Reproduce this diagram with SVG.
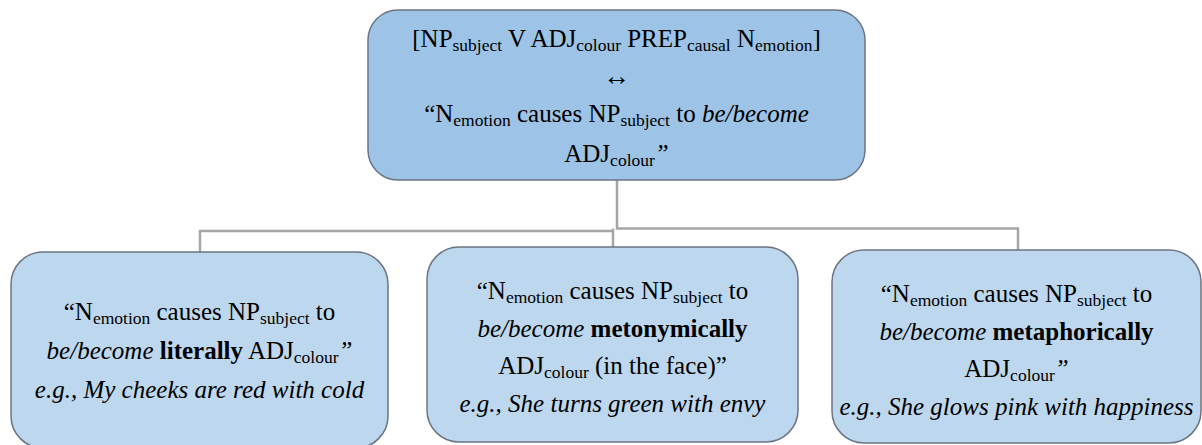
<svg xmlns="http://www.w3.org/2000/svg" width="1202" height="445" viewBox="0 0 1202 445">
<style>
.box{stroke:#6b7583;stroke-width:1.5}
.top{fill:#9dc3e6}
.low{fill:#bdd7ee}
.conn{fill:none;stroke:#a6a6a6;stroke-width:2.5}
text{font-family:"Liberation Serif","Times New Roman",serif;font-size:25px;fill:#000;text-anchor:middle}
.s{font-size:17.5px}
.i{font-style:italic}
.b{font-weight:bold}
</style>
<rect width="1202" height="445" fill="#ffffff"/>
<g id="connectors">
<path class="conn" d="M617 180 V228.5 H1018 V250"/>
<path class="conn" d="M613 228.5 V247"/>
<path class="conn" d="M614 231 H200 V252"/>
</g>
<g id="node-top">
<rect class="box top" x="368" y="10" width="497" height="170" rx="30" ry="30"/>
<text x="616.5" y="47">[NP<tspan class="s" dy="4">subject</tspan><tspan dy="-4"> V ADJ</tspan><tspan class="s" dy="4">colour</tspan><tspan dy="-4"> PREP</tspan><tspan class="s" dy="4">causal</tspan><tspan dy="-4"> N</tspan><tspan class="s" dy="4">emotion</tspan><tspan dy="-4">]</tspan></text>
<text x="616.5" y="85" style="font-size:27px">↔</text>
<text x="616.5" y="122">“N<tspan class="s" dy="4">emotion</tspan><tspan dy="-4"> causes NP</tspan><tspan class="s" dy="4">subject</tspan><tspan dy="-4"> to </tspan><tspan class="i">be/become</tspan></text>
<text x="616.5" y="162">ADJ<tspan class="s" dy="4">colour</tspan><tspan class="i" dy="-4">”</tspan></text>
</g>
<g id="node-literal">
<rect class="box low" x="11" y="252" width="377" height="196" rx="32" ry="32"/>
<text x="199.5" y="320">“N<tspan class="s" dy="4">emotion</tspan><tspan dy="-4"> causes NP</tspan><tspan class="s" dy="4">subject</tspan><tspan dy="-4"> to</tspan></text>
<text x="199.5" y="359"><tspan class="i">be/become</tspan> <tspan class="b">literally</tspan> ADJ<tspan class="s" dy="4">colour</tspan><tspan class="i" dy="-4">”</tspan></text>
<text x="199.5" y="398" class="i">e.g., My cheeks are red with cold</text>
</g>
<g id="node-metonymic">
<rect class="box low" x="427" y="247" width="371" height="195" rx="32" ry="32"/>
<text x="612.5" y="299">“N<tspan class="s" dy="4">emotion</tspan><tspan dy="-4"> causes NP</tspan><tspan class="s" dy="4">subject</tspan><tspan dy="-4"> to</tspan></text>
<text x="612.5" y="336.5"><tspan class="i">be/become</tspan> <tspan class="b">metonymically</tspan></text>
<text x="612.5" y="374">ADJ<tspan class="s" dy="4">colour</tspan><tspan dy="-4"> (in the face)”</tspan></text>
<text x="612.5" y="411.5" class="i">e.g., She turns green with envy</text>
</g>
<g id="node-metaphoric">
<rect class="box low" x="832" y="250" width="369" height="193" rx="32" ry="32"/>
<text x="1016.5" y="302">“N<tspan class="s" dy="4">emotion</tspan><tspan dy="-4"> causes NP</tspan><tspan class="s" dy="4">subject</tspan><tspan dy="-4"> to</tspan></text>
<text x="1016.5" y="339.5"><tspan class="i">be/become</tspan> <tspan class="b">metaphorically</tspan></text>
<text x="1016.5" y="377">ADJ<tspan class="s" dy="4">colour</tspan><tspan class="i" dy="-4">”</tspan></text>
<text x="1016.5" y="414.5" class="i">e.g., She glows pink with happiness</text>
</g>
</svg>
